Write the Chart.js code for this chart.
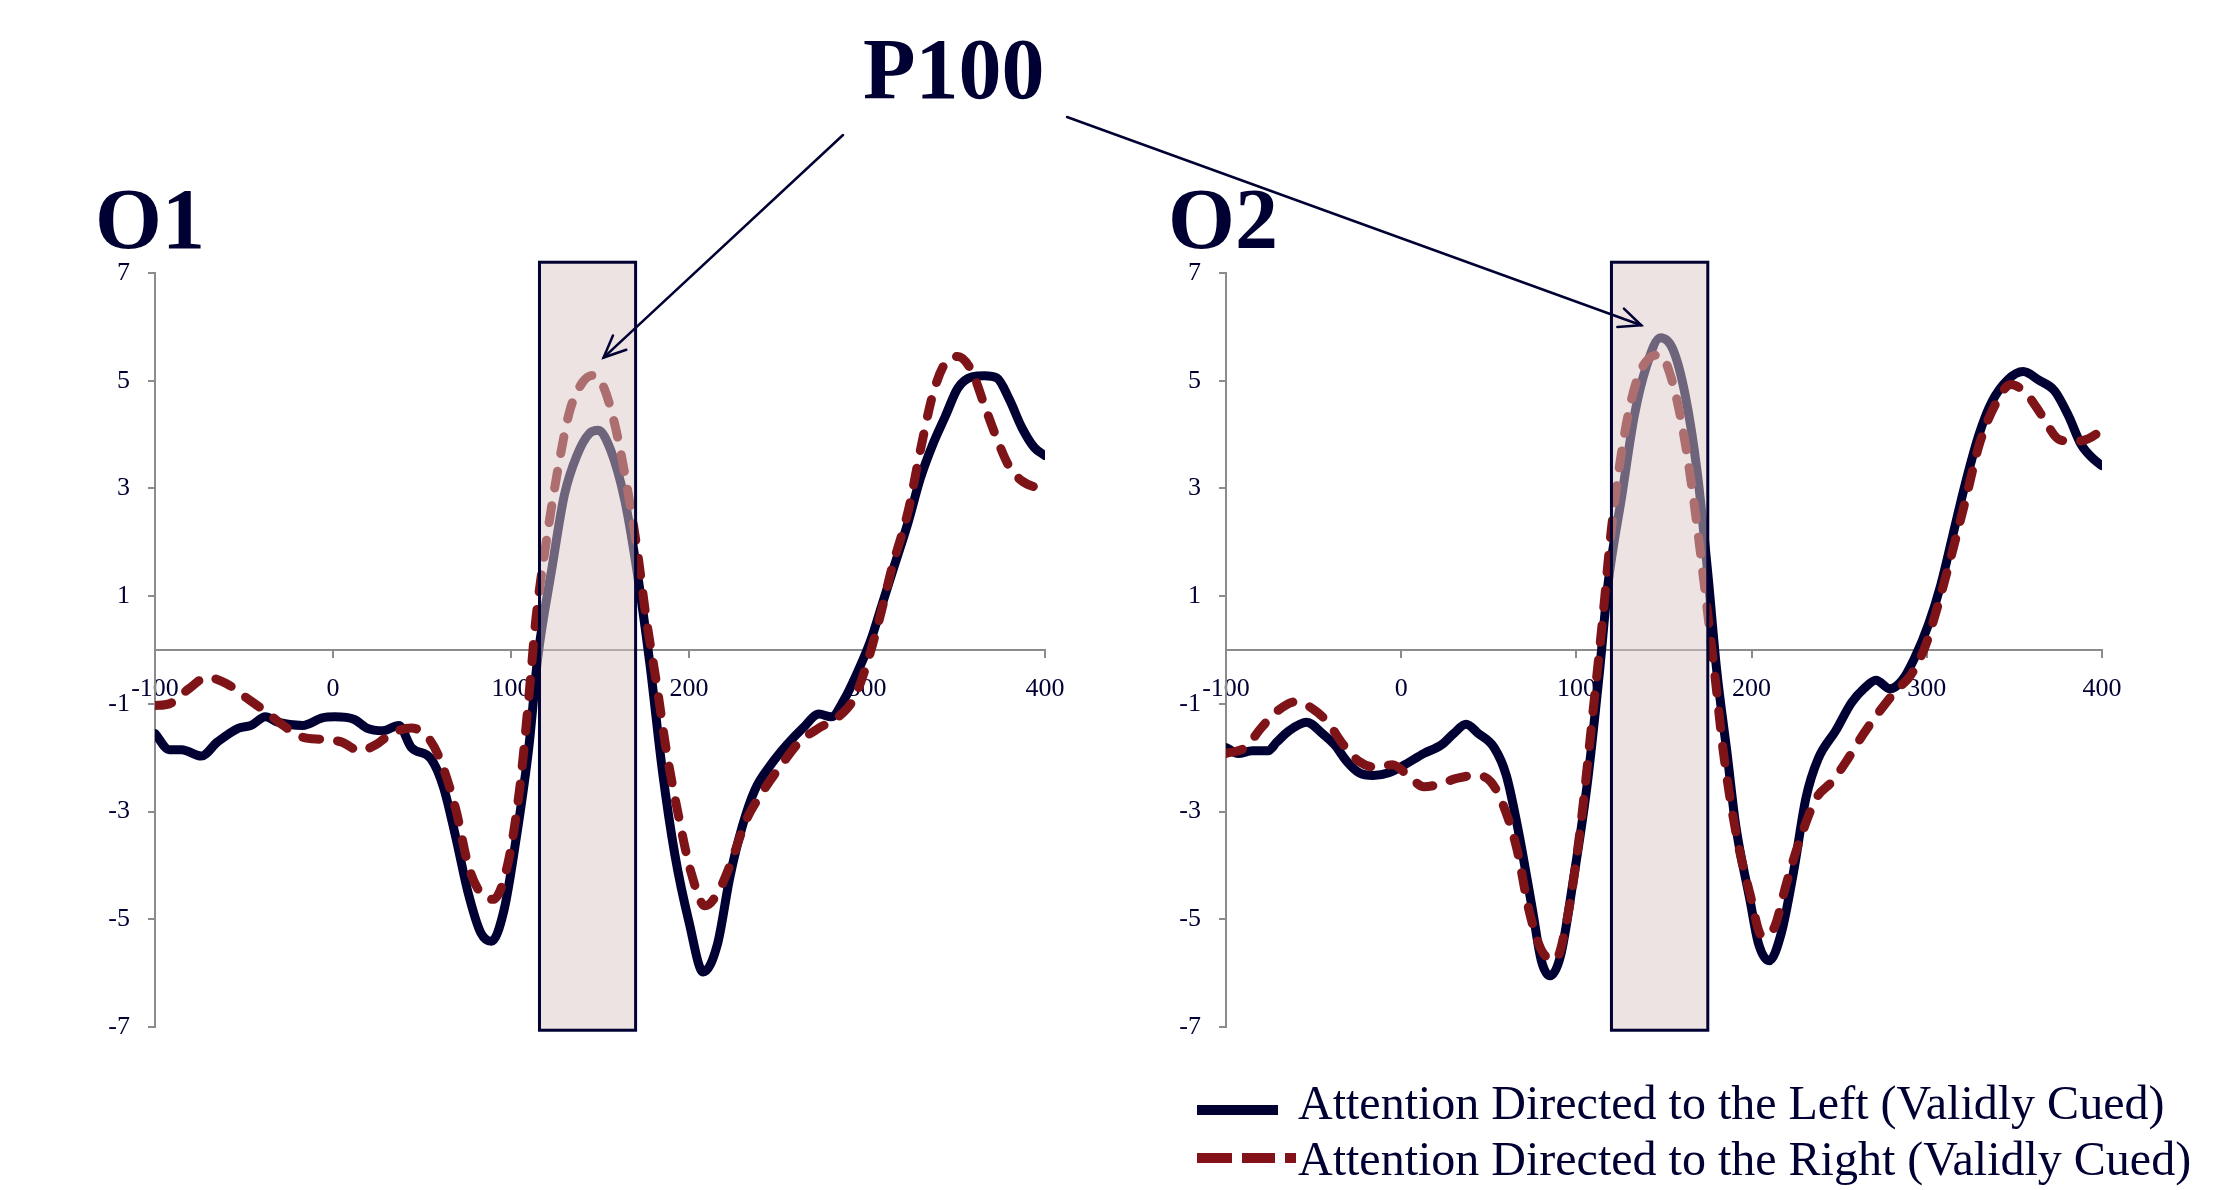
<!DOCTYPE html>
<html><head><meta charset="utf-8">
<script src="https://cdn.jsdelivr.net/npm/chart.js@4/dist/chart.umd.min.js"></script>
<style>
html,body{margin:0;padding:0;background:#fff;width:2238px;height:1190px;overflow:hidden;}
.layer{position:absolute;left:0;top:0;}
.t{position:absolute;font-family:"Liberation Serif","Times New Roman",serif;color:#000033;white-space:nowrap;line-height:1;}
.b{font-weight:bold;font-size:86px;}
.lg{font-size:48px;}
.sw{position:absolute;height:10px;}
</style></head>
<body>
<canvas id="c1" class="layer" width="2238" height="1190"></canvas>
<canvas id="c2" class="layer" width="2238" height="1190"></canvas>
<canvas id="ov" class="layer" width="2238" height="1190"></canvas>
<div class="t b" style="left:863px;top:26px;">P100</div>
<div class="t b" style="left:95px;top:176px;">O1</div>
<div class="t b" style="left:1168px;top:176px;">O2</div>
<div class="sw" style="left:1197px;top:1105px;width:81px;background:#000033;"></div>
<div class="sw" style="left:1197px;top:1153px;width:35px;background:#84121a;"></div>
<div class="sw" style="left:1242px;top:1153px;width:33px;background:#84121a;"></div>
<div class="sw" style="left:1285px;top:1153px;width:11px;background:#84121a;"></div>
<div class="t lg" style="left:1298px;top:1079px;">Attention Directed to the Left (Validly Cued)</div>
<div class="t lg" style="left:1298px;top:1135px;">Attention Directed to the Right (Validly Cued)</div>
<script>
// ---- data ----
const xTicks = [-100, 0, 100, 200, 300, 400];
const yTicks = [-7, -5, -3, -1, 1, 3, 5, 7];
const seriesNames = ['Attention Directed to the Left (Validly Cued)', 'Attention Directed to the Right (Validly Cued)'];

// O1 - attention left (solid navy)
const o1LeftTime = [-100,-92,-85,-74,-65,-53,-46,-38,-31,-17,-6,1,12,19,28,37,44,55,62,69,76,83,89,96,103,110,115,123,130,137,144,149,156,164,171,178,185,192,200,208,216,223,230,237,246,255,264,273,280,287,294,302,309,316,323,330,337,344,351,359,366,373,380,387,394,400];
const o1LeftValue = [-1.55,-1.85,-1.85,-1.97,-1.71,-1.45,-1.40,-1.24,-1.34,-1.40,-1.26,-1.24,-1.29,-1.45,-1.50,-1.40,-1.81,-2.02,-2.54,-3.48,-4.52,-5.25,-5.41,-4.84,-3.48,-1.81,-0.15,1.52,2.88,3.61,4.02,4.08,3.71,2.77,1.42,-0.25,-2.23,-3.79,-5.05,-5.98,-5.46,-4.21,-3.27,-2.60,-2.13,-1.76,-1.45,-1.19,-1.24,-0.93,-0.46,0.17,0.90,1.63,2.36,3.19,3.82,4.34,4.86,5.07,5.09,5.05,4.65,4.13,3.76,3.61];
// O1 - attention right (dashed red)
const o1RightTime = [-100,-92,-81,-71,-60,-49,-38,-28,-17,-6,5,15,24,33,44,53,60,69,76,83,90,98,105,110,114,119,126,133,140,146,151,158,166,171,176,182,187,194,201,209,216,223,232,241,252,262,273,284,293,300,307,314,323,330,337,344,351,359,366,373,380,387,394,400];
const o1RightValue = [-1.03,-1.00,-0.72,-0.51,-0.62,-0.88,-1.14,-1.40,-1.62,-1.66,-1.71,-1.87,-1.76,-1.55,-1.45,-1.61,-2.02,-2.96,-4.00,-4.52,-4.63,-4.00,-2.54,-0.88,0.58,1.83,3.29,4.44,4.96,5.10,4.96,4.23,2.88,1.83,0.58,-0.67,-1.81,-3.06,-4.11,-4.75,-4.52,-4.00,-3.17,-2.65,-2.13,-1.71,-1.45,-1.24,-0.88,-0.25,0.58,1.52,2.56,3.71,4.75,5.33,5.45,5.17,4.54,3.92,3.40,3.14,3.03,3.00];
// O2 - attention left (solid navy)
const o2LeftTime = [-100,-93,-85,-76,-71,-64,-54,-45,-38,-31,-24,-16,-7,2,13,23,30,37,44,53,60,67,75,80,85,91,98,106,113,118,126,133,140,148,155,162,169,175,180,186,191,199,204,210,217,224,231,238,248,257,264,271,279,286,293,301,308,315,322,330,337,346,355,364,373,381,388,395,400];
const o2LeftValue = [-1.81,-1.92,-1.87,-1.87,-1.71,-1.50,-1.34,-1.55,-1.76,-2.07,-2.28,-2.33,-2.28,-2.13,-1.92,-1.76,-1.55,-1.38,-1.55,-1.81,-2.33,-3.38,-4.84,-5.77,-6.05,-5.67,-4.32,-2.54,-0.46,1.21,2.88,4.34,5.27,5.80,5.59,4.75,3.29,1.42,-0.35,-1.92,-3.27,-4.63,-5.46,-5.77,-5.25,-4.11,-2.75,-2.02,-1.50,-0.98,-0.72,-0.56,-0.72,-0.56,-0.15,0.48,1.21,2.15,3.09,4.02,4.60,5.01,5.17,5.01,4.81,4.34,3.82,3.55,3.42];
// O2 - attention right (dashed red)
const o2RightTime = [-100,-89,-80,-71,-60,-51,-42,-33,-24,-14,-5,4,13,22,31,42,51,58,66,73,80,88,95,102,109,115,120,127,134,141,148,153,160,167,173,179,184,191,199,206,213,220,228,237,246,255,264,273,282,291,299,306,313,322,330,339,348,357,366,375,384,392,400];
const o2RightValue = [-1.92,-1.81,-1.45,-1.14,-0.96,-1.08,-1.34,-1.76,-2.07,-2.18,-2.13,-2.33,-2.54,-2.49,-2.39,-2.33,-2.44,-2.86,-3.69,-4.84,-5.57,-5.75,-4.94,-3.38,-1.29,0.58,2.25,3.92,4.96,5.40,5.48,5.17,4.23,2.77,1.21,-0.46,-1.92,-3.38,-4.52,-5.31,-5.15,-4.32,-3.48,-2.75,-2.44,-2.02,-1.55,-1.14,-0.77,-0.46,0.06,0.79,1.63,2.77,3.82,4.55,4.93,4.75,4.34,3.92,3.87,3.92,4.08];

// P100 highlighted windows (ms) and vertical span (µV)
const o1Window = [116, 170];
const o2Window = [120, 175];
const windowSpan = [-7.06, 7.2];
// arrow targets (ms, µV)
const o1Arrow = [152, 5.43];
const o2Arrow = [137, 6.03];

// ---- drawing ----
const NAVY = '#000033', RED = '#7e1418', AXIS = '#8c8c8c';
const tickFont = {family: '"Liberation Serif", "Times New Roman", serif', size: 26};
function pairs(t, v) { return t.map((x, i) => ({x: x, y: v[i]})); }

function build(id, L, R, lt, lv, rt, rv, win) {
  const winPlugin = {
    id: 'win_' + id,
    afterDatasetsDraw(chart) {
      const {ctx} = chart, x = chart.scales.x, y = chart.scales.y;
      const x0 = x.getPixelForValue(win[0]), x1 = x.getPixelForValue(win[1]);
      const y0 = y.getPixelForValue(windowSpan[1]), y1 = y.getPixelForValue(windowSpan[0]);
      ctx.save();
      ctx.fillStyle = 'rgba(220,200,198,0.5)';
      ctx.fillRect(x0, y0, x1 - x0, y1 - y0);
      ctx.lineWidth = 3; ctx.strokeStyle = NAVY;
      ctx.strokeRect(x0, y0, x1 - x0, y1 - y0);
      ctx.restore();
    }
  };
  const gridOpts = {display: true, drawOnChartArea: false, drawTicks: true, tickLength: 7, color: AXIS, lineWidth: 2};
  return new Chart(document.getElementById(id), {
    type: 'line',
    data: {datasets: [
      {label: seriesNames[0], data: pairs(lt, lv), borderColor: NAVY, borderWidth: 9, pointRadius: 0,
       cubicInterpolationMode: 'monotone', order: 1, fill: false, borderJoinStyle: 'round', borderCapStyle: 'round'},
      {label: seriesNames[1], data: pairs(rt, rv), borderColor: RED, borderWidth: 9, borderDash: [17, 18],
       borderCapStyle: 'round', pointRadius: 0, cubicInterpolationMode: 'monotone', order: 0, fill: false}
    ]},
    options: {
      responsive: false, animation: false, devicePixelRatio: 1,
      layout: {padding: {left: L - 50, right: 2238 - R, top: 273, bottom: 163}},
      plugins: {legend: {display: false}, tooltip: {enabled: false}},
      scales: {
        x: {type: 'linear', min: -100, max: 400, position: {y: 0},
            afterBuildTicks: s => { s.ticks = xTicks.map(v => ({value: v})); },
            ticks: {font: tickFont, color: NAVY, padding: 17, maxRotation: 0, autoSkip: false},
            grid: gridOpts, border: {display: true, color: AXIS, width: 2}},
        y: {type: 'linear', min: -7, max: 7, position: 'left',
            afterFit: s => { s.width = 50; },
            afterBuildTicks: s => { s.ticks = yTicks.map(v => ({value: v})); },
            ticks: {font: tickFont, color: NAVY, padding: 18, autoSkip: false},
            grid: gridOpts, border: {display: true, color: AXIS, width: 2}}
      }
    },
    plugins: [winPlugin]
  });
}

const ch1 = build('c1', 155, 1045, o1LeftTime, o1LeftValue, o1RightTime, o1RightValue, o1Window);
const ch2 = build('c2', 1226, 2102, o2LeftTime, o2LeftValue, o2RightTime, o2RightValue, o2Window);

function arrow(ctx, x0, y0, x1, y1) {
  ctx.beginPath(); ctx.moveTo(x0, y0); ctx.lineTo(x1, y1); ctx.stroke();
  const a = Math.atan2(y1 - y0, x1 - x0), len = 24, sp = 0.42;
  ctx.beginPath();
  ctx.moveTo(x1 - len * Math.cos(a - sp), y1 - len * Math.sin(a - sp));
  ctx.lineTo(x1, y1);
  ctx.lineTo(x1 - len * Math.cos(a + sp), y1 - len * Math.sin(a + sp));
  ctx.stroke();
}
const ov = document.getElementById('ov').getContext('2d');
ov.strokeStyle = NAVY; ov.lineWidth = 2.5; ov.lineCap = 'round';
arrow(ov, 843, 135, ch1.scales.x.getPixelForValue(o1Arrow[0]), ch1.scales.y.getPixelForValue(o1Arrow[1]));
arrow(ov, 1067, 117, ch2.scales.x.getPixelForValue(o2Arrow[0]), ch2.scales.y.getPixelForValue(o2Arrow[1]));
</script>
</body></html>
